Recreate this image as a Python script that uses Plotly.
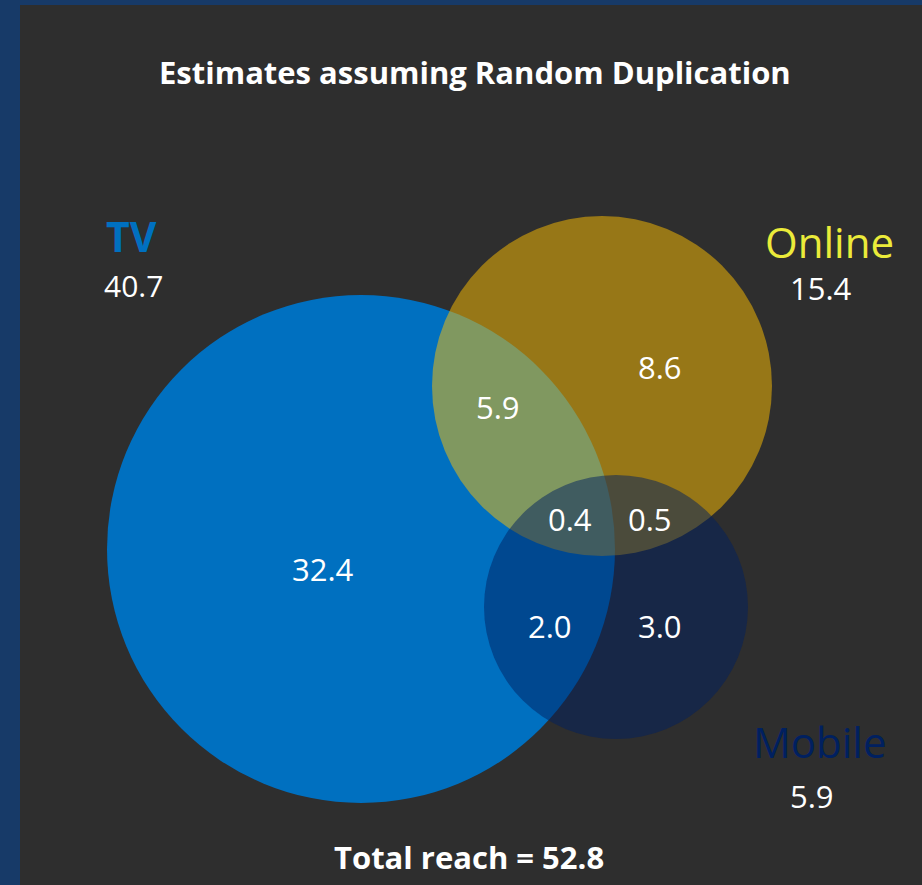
import plotly.graph_objects as go

# ---- data ----
set_names = ["TV", "Online", "Mobile"]
set_totals = [40.7, 15.4, 5.9]
region_names = ["TV only", "TV & Online", "Online only", "TV & Online & Mobile",
                "Online & Mobile", "TV & Mobile", "Mobile only"]
region_values = [32.4, 5.9, 8.6, 0.4, 0.5, 2.0, 3.0]
total_reach = 52.8
title_text = "Estimates assuming Random Duplication"

# ---- layout geometry (pixel space) ----
W, H = 922, 885
circle_geo = {  # center x, center y, radius
    "TV": (361, 549, 254),
    "Online": (602, 386, 170),
    "Mobile": (616, 607, 132),
}
circle_fill = {
    "TV": "#0070C0",
    "Online": "rgba(255,192,0,0.5)",
    "Mobile": "rgba(0,32,96,0.5)",
}
set_label_pos = {  # name pos, total pos
    "TV": ((131, 236), (133, 285)),
    "Online": ((829, 241), (821, 288)),
    "Mobile": ((820, 741), (812, 796)),
}
set_label_style = {
    "TV": dict(color="#0070C0", weight="bold", size=41),
    "Online": dict(color="#EBEB3A", weight="normal", size=42),
    "Mobile": dict(color="#002060", weight="normal", size=42),
}
region_pos = [(323, 569), (498, 407), (660, 367), (570, 519),
              (650, 519), (550, 626), (660, 626)]

FONT = "Open Sans"
NUM_SIZE = 31

fig = go.Figure()
fig.add_trace(go.Scatter(x=[0, W], y=[0, H], mode="markers",
                         marker=dict(opacity=0), hoverinfo="skip", showlegend=False))

shapes = [dict(type="rect", xref="x", yref="y", x0=20, x1=W + 5, y0=5, y1=H + 5,
               fillcolor="#2E2E2E", line=dict(width=0), layer="below")]
for name in set_names:
    cx, cy, r = circle_geo[name]
    shapes.append(dict(type="circle", xref="x", yref="y",
                       x0=cx - r, x1=cx + r, y0=cy - r, y1=cy + r,
                       fillcolor=circle_fill[name], line=dict(width=0), layer="above"))

annotations = []
annotations.append(dict(x=475, y=72, text="<b>" + title_text + "</b>", showarrow=False,
                        font=dict(family=FONT, size=31, color="white")))
annotations.append(dict(x=469, y=857, text="<b>Total reach = %.1f</b>" % total_reach,
                        showarrow=False, font=dict(family=FONT, size=31, color="white")))
for name, tot in zip(set_names, set_totals):
    (nx, ny), (tx, ty) = set_label_pos[name]
    st = set_label_style[name]
    txt = "<b>%s</b>" % name if st["weight"] == "bold" else name
    num_size = 30 if name == "TV" else NUM_SIZE
    annotations.append(dict(x=nx, y=ny, text=txt, showarrow=False,
                            font=dict(family=FONT, size=st["size"], color=st["color"])))
    annotations.append(dict(x=tx, y=ty, text="%.1f" % tot, showarrow=False,
                            font=dict(family=FONT, size=num_size, color="white")))
for (px, py), v in zip(region_pos, region_values):
    annotations.append(dict(x=px, y=py, text="%.1f" % v, showarrow=False,
                            font=dict(family=FONT, size=NUM_SIZE, color="white")))

fig.update_layout(
    width=W, height=H, autosize=False,
    margin=dict(l=0, r=0, t=0, b=0, pad=0),
    paper_bgcolor="#173A68", plot_bgcolor="rgba(0,0,0,0)",
    xaxis=dict(range=[0, W], visible=False, fixedrange=True),
    yaxis=dict(range=[H, 0], visible=False, fixedrange=True),
    shapes=shapes, annotations=annotations, showlegend=False,
)
fig.write_html("out.html")
